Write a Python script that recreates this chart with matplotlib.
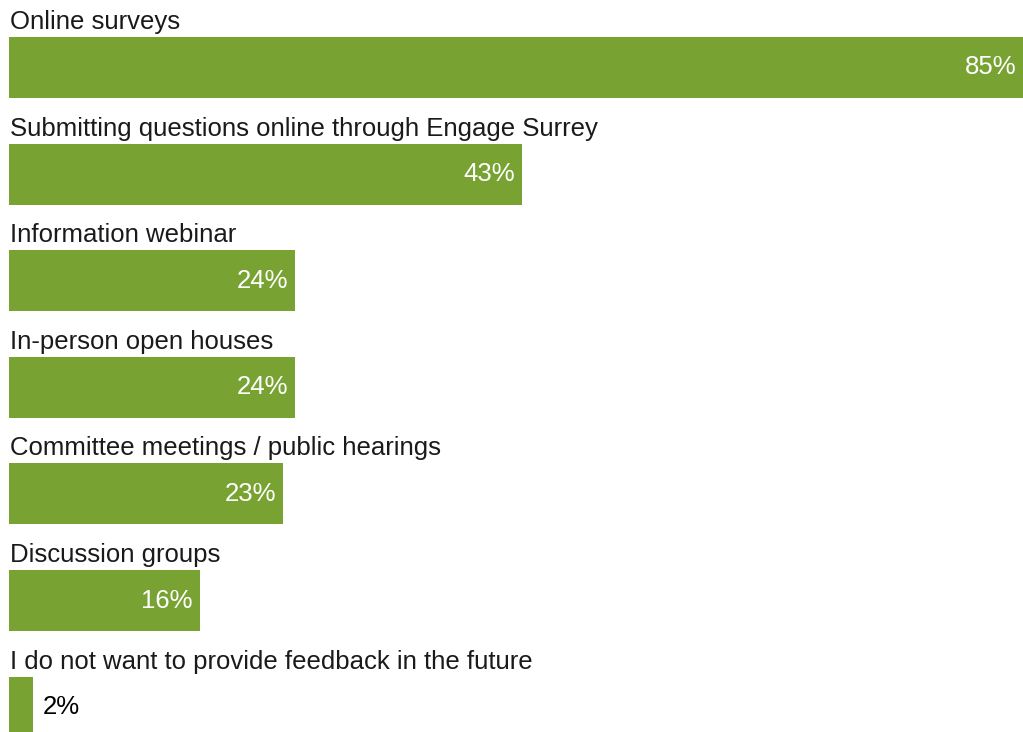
import matplotlib
matplotlib.use('Agg')
import matplotlib.pyplot as plt

categories = ['Online surveys',
              'Submitting questions online through Engage Surrey',
              'Information webinar',
              'In-person open houses',
              'Committee meetings / public hearings',
              'Discussion groups',
              'I do not want to provide feedback in the future']
values = [85, 43, 24, 24, 23, 16, 2]
labels = ['85%', '43%', '24%', '24%', '23%', '16%', '2%']

bar_color = '#78a232'
plt.rcParams['font.family'] = ['Liberation Sans', 'DejaVu Sans']

W, H = 1023, 732
fig = plt.figure(figsize=(W / 100, H / 100), dpi=100)
# axes spans the whole height, x from pixel 9 to right edge
ax = fig.add_axes([9 / W, 0, (W - 9) / W, 1])
ax.set_xlim(0, 85)
ax.set_ylim(H, 0)  # y in pixel rows, top at 0
ax.axis('off')

first_center = 67.5
step = 106.6
bar_h = 61
fs = 18.5
for i, (cat, v, lab) in enumerate(zip(categories, values, labels)):
    yc = first_center + i * step
    ax.barh(yc, v, height=bar_h, color=bar_color, left=0)
    ax.text(0.1, yc - bar_h / 2 - 8, cat, fontsize=fs, color='#1a1a1a',
            ha='left', va='baseline')
    if v >= 10:
        ax.annotate(lab, (v, yc), xytext=(-7, 0), textcoords='offset pixels',
                    ha='right', va='center', fontsize=fs, color='white')
    else:
        ax.annotate(lab, (v, yc), xytext=(10, 0), textcoords='offset pixels',
                    ha='left', va='center', fontsize=fs, color='black')

fig.savefig('out.png', dpi=100)
